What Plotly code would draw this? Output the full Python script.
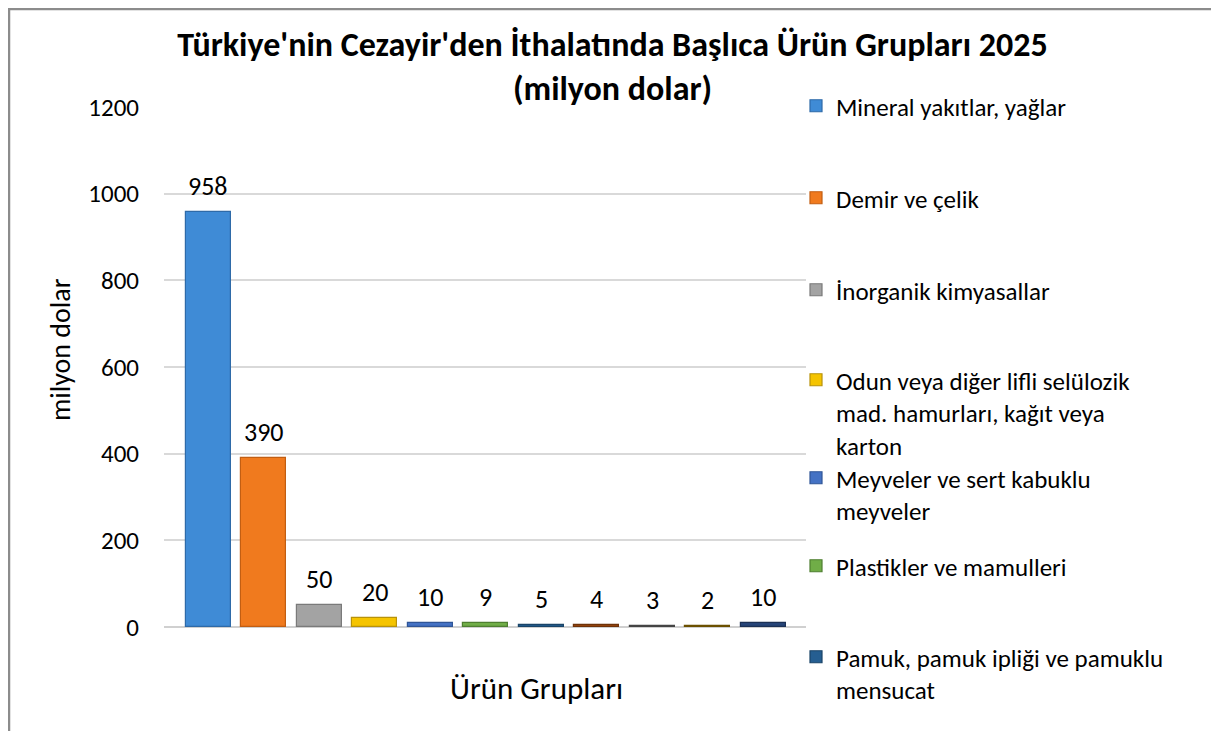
import plotly.graph_objects as go

# ---- data ----
series_names = [
    "Mineral yakıtlar, yağlar",
    "Demir ve çelik",
    "İnorganik kimyasallar",
    "Odun veya diğer lifli selülozik<br>mad. hamurları, kağıt veya<br>karton",
    "Meyveler ve sert kabuklu<br>meyveler",
    "Plastikler ve mamulleri",
    "Pamuk, pamuk ipliği ve pamuklu<br>mensucat",
    "Ürün grubu 8",
    "Ürün grubu 9",
    "Ürün grubu 10",
    "Ürün grubu 11",
]
values = [958, 390, 50, 20, 10, 9, 5, 4, 3, 2, 10]
show_in_legend = [True, True, True, True, True, True, True, False, False, False, False]
colors = ["#3F8BD6", "#F07A1E", "#A3A3A3", "#F5C400", "#4472C4", "#70AD47",
          "#255E91", "#9E480E", "#636363", "#997300", "#264478"]
edge_colors = ["#2E6AA8", "#C25E12", "#7A7A7A", "#B8920A", "#2F5597", "#4E7F30",
               "#1A4468", "#6E3209", "#444444", "#6B5000", "#1B3055"]
y_ticks = [0, 200, 400, 600, 800, 1000, 1200]

title_line1 = "Türkiye'nin Cezayir'den İthalatında Başlıca Ürün Grupları 2025"
title_line2 = "(milyon dolar)"
y_title = "milyon dolar"
x_title = "Ürün Grupları"

FONT = "Carlito, Calibri, Lato, sans-serif"

# the page places the figure 8px from the top-left corner
OFF = 8
W, H = 1219 - OFF, 731 - OFF
L = 164 - OFF
PLOT_RIGHT = 806 - OFF
T = 107 - OFF
PLOT_BOTTOM = 627 - OFF
R = W - PLOT_RIGHT
B = H - PLOT_BOTTOM
plot_w = PLOT_RIGHT - L
plot_h = PLOT_BOTTOM - T

def px_to_paper_x(px_ref):
    return (px_ref - OFF - L) / plot_w

def px_to_paper_y(py_ref):
    return (PLOT_BOTTOM - (py_ref - OFF)) / plot_h

legend_first_line_px = [106, 198, 290, 380, 478, 566, 657]

fig = go.Figure()
legend_idx = 0
for i, (name, v) in enumerate(zip(series_names, values)):
    kw = {}
    if show_in_legend[i]:
        legend_idx += 1
        kw["legend"] = "legend" if legend_idx == 1 else f"legend{legend_idx}"
    fig.add_trace(go.Bar(
        x=[i], y=[v], name=name, width=0.81,
        marker=dict(color=colors[i], line=dict(color=edge_colors[i], width=1.2)),
        showlegend=show_in_legend[i],
        hovertemplate=f"{name.replace('<br>', ' ')}: %{{y}}<extra></extra>",
        **kw,
    ))

layout_legends = {}
for k, ypx in enumerate(legend_first_line_px):
    key = "legend" if k == 0 else f"legend{k+1}"
    layout_legends[key] = dict(
        x=px_to_paper_x(796), xanchor="left",
        y=px_to_paper_y(ypx - 23), yanchor="top",
        valign="top",
        font=dict(family=FONT, size=25, color="#000000"),
        bgcolor="rgba(0,0,0,0)", borderwidth=0,
        itemclick=False, itemdoubleclick=False,
    )

annotations = []
for i, v in enumerate(values):
    annotations.append(dict(
        x=i, y=v, xref="x", yref="y", text=str(v), showarrow=False,
        yanchor="middle", yshift=26,
        font=dict(family=FONT, size=26, color="#000000"),
    ))
annotations.append(dict(
    x=px_to_paper_x(536), y=px_to_paper_y(688), xref="paper", yref="paper",
    text=x_title, showarrow=False, xanchor="center", yanchor="middle",
    font=dict(family=FONT, size=31, color="#000000"),
))
annotations.append(dict(
    x=px_to_paper_x(60), y=px_to_paper_y(350), xref="paper", yref="paper",
    text=y_title, showarrow=False, textangle=-90, xanchor="center", yanchor="middle",
    font=dict(family=FONT, size=28, color="#000000"),
))

fig.update_layout(
    width=W, height=H,
    margin=dict(l=L, r=R, t=T, b=B, autoexpand=False),
    paper_bgcolor="white", plot_bgcolor="white",
    title=dict(
        text=f"<b>{title_line1}</b><br><b>{title_line2}</b>",
        x=(612.5 - OFF) / W, xref="container", xanchor="center",
        y=1 - (56 - OFF) / H, yref="container", yanchor="middle",
        font=dict(family=FONT, size=34, color="#000000"),
    ),
    barmode="overlay",
    bargap=0,
    xaxis=dict(
        range=[-0.80, 10.77], showticklabels=False, showgrid=False,
        zeroline=False, showline=False, ticks="",
    ),
    yaxis=dict(
        range=[0, 1200], tickvals=y_ticks, showgrid=True, gridcolor="#D9D9D9",
        gridwidth=1.5, zeroline=True, zerolinecolor="#D0D0D0", zerolinewidth=1.5,
        showline=False, ticks="", ticklabelstandoff=24,
        tickfont=dict(family=FONT, size=25, color="#000000"),
    ),
    annotations=annotations,
    shapes=[dict(
        type="rect", xref="paper", yref="paper",
        x0=px_to_paper_x(9), x1=px_to_paper_x(1218),
        y0=px_to_paper_y(760), y1=px_to_paper_y(9),
        line=dict(color="#8C8C8C", width=2.5), fillcolor="rgba(0,0,0,0)", layer="below",
    )],
    showlegend=True,
    **layout_legends,
)

fig.write_html("out.html")
